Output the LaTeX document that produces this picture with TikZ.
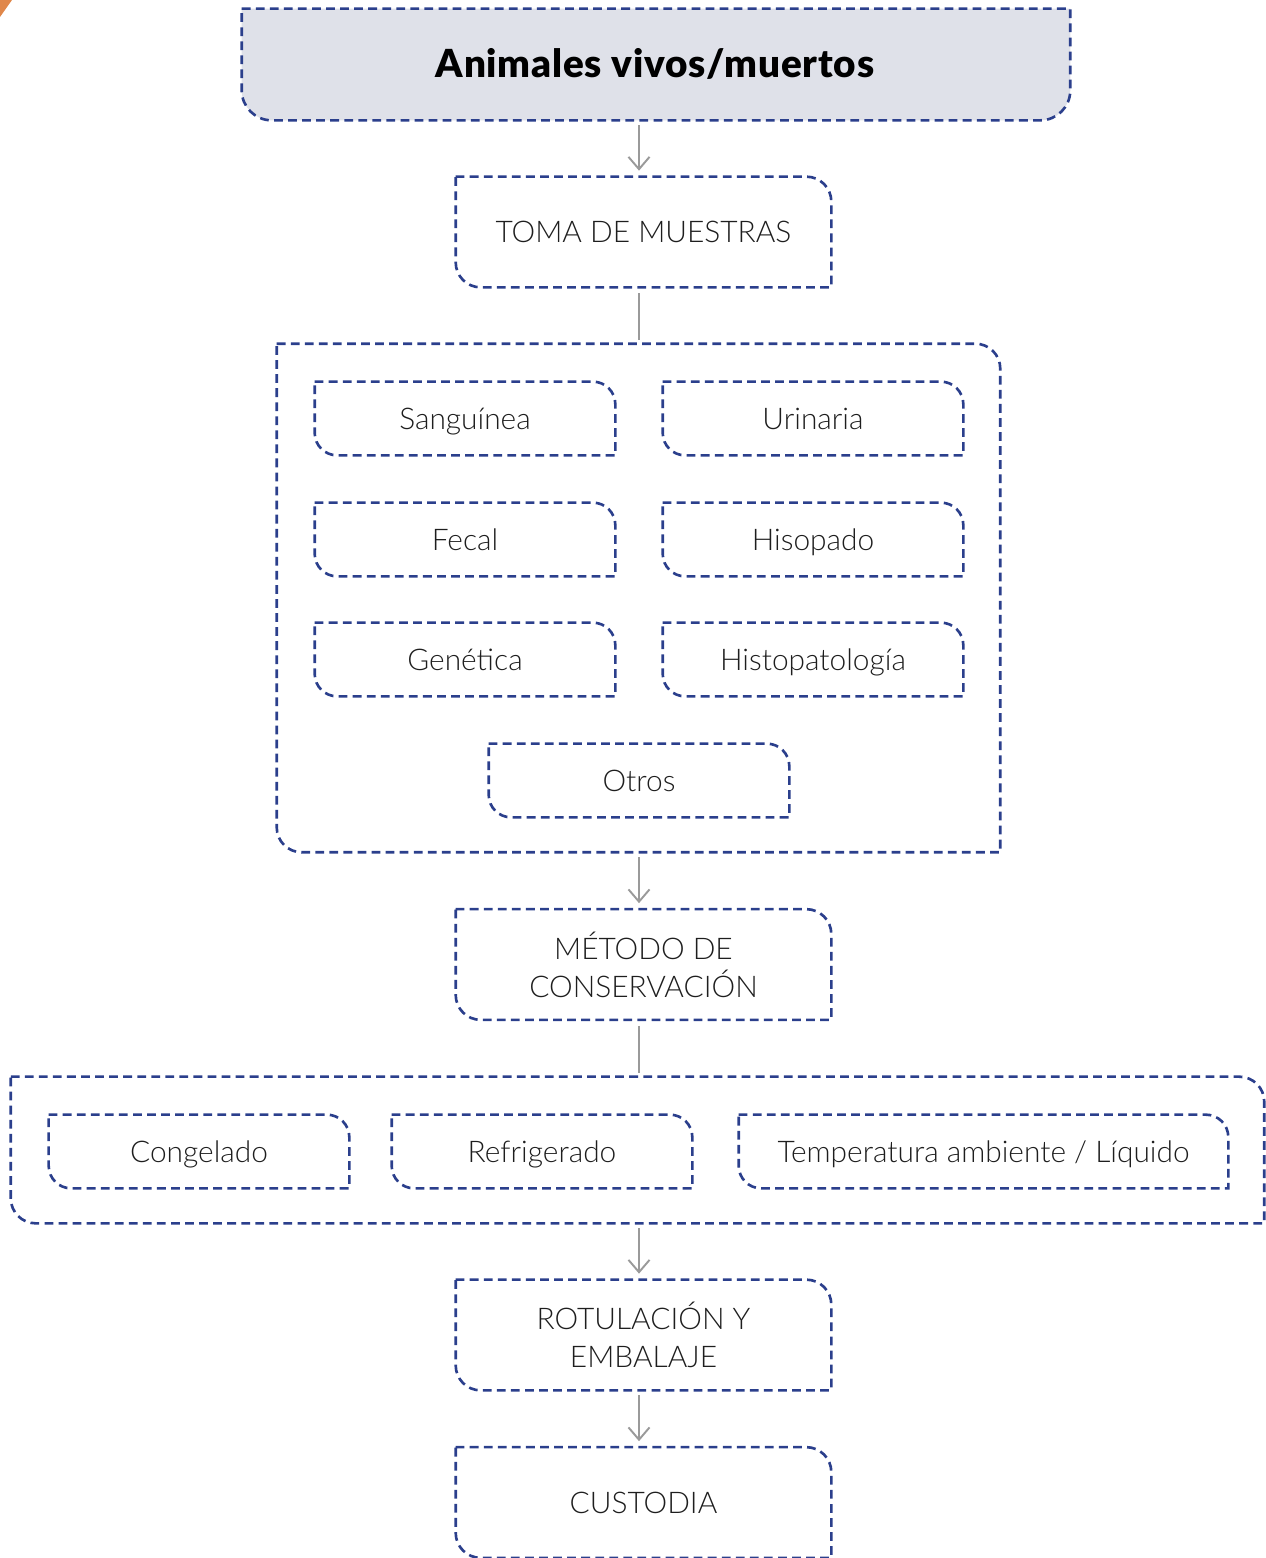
\documentclass[tikz,border=0pt]{standalone}
\usepackage{fontspec}
\setmainfont{Lato}[UprightFont=* Light]
\newfontfamily\titlefont{Lato Black}[LetterSpace=2]
\usetikzlibrary{arrows.meta,calc}
\definecolor{dblue}{HTML}{2B3F8C}
\definecolor{lgray}{HTML}{DFE1E9}
\definecolor{agray}{HTML}{9A9A9A}
\definecolor{txt}{HTML}{1E1E1E}
\definecolor{orng}{HTML}{E0874A}
\tikzset{
  dbox/.style={draw=dblue,line width=1.5pt,dash pattern=on 5pt off 3pt},
  holder/.style={draw=none,inner sep=0pt,text=txt,align=center,font=\fontsize{17}{21.5}\selectfont},
  oneline/.style={text height=12.2pt,text depth=0pt},
  small/.style={holder,oneline,minimum width=6cm,minimum height=1.46cm},
  stepbox/.style={holder,minimum width=7.5cm,minimum height=2.2cm},
  arr/.style={draw=agray,line width=1.1pt,-{Straight Barb[length=7pt,width=12pt,line width=1.1pt]},shorten <=5*0.02cm,shorten >=6*0.02cm},
  conn/.style={draw=agray,line width=1.1pt,shorten <=6*0.02cm,shorten >=4*0.02cm}
}
\newcommand\fancybox[2]{\draw[dbox] (#1.north west) -- ([xshift=-#2]#1.north east) arc[start angle=90,end angle=0,radius=#2] -- (#1.south east) -- ([xshift=#2]#1.south west) arc[start angle=270,end angle=180,radius=#2] -- cycle;}
\begin{document}
\begin{tikzpicture}[x=0.02cm,y=0.02cm]
\useasboundingbox (0,0) rectangle (1266,-1558);
\fill[orng] (0,0) -- (12,0) -- (0,-17) -- cycle;
% nodes
\node[holder,minimum width=16.56cm,minimum height=2.22cm] (top) at (656,-64.5) {};
\node[stepbox,oneline] (toma) at (643.5,-232) {TOMA DE MUESTRAS};
\node[holder,minimum width=14.46cm,minimum height=10.16cm] (c1) at (638.5,-598) {};
\node[small] (sang) at (465,-418.5) {Sanguínea};
\node[small] (urin) at (813,-418.5) {Urinaria};
\node[small] (fec) at (465,-539.5) {Fecal};
\node[small] (his) at (813,-539.5) {Hisopado};
\node[small] (gen) at (465,-659.5) {Genética};
\node[small] (histo) at (813,-659.5) {Histopatología};
\node[small] (otr) at (639,-780.5) {Otros};
\node[stepbox] (met) at (643.5,-964.5) {MÉTODO DE\\CONSERVACIÓN};
\node[holder,minimum width=25.06cm,minimum height=2.92cm] (c2) at (637.5,-1150) {};
\node[small] (cong) at (199,-1151.5) {Congelado};
\node[small] (refr) at (542,-1151.5) {Refrigerado};
\node[small,minimum width=9.78cm] (temp) at (983.5,-1151.5) {Temperatura ambiente / Líquido};
\node[stepbox] (rot) at (643.5,-1335) {ROTULACIÓN Y\\EMBALAJE};
\node[stepbox,oneline] (cus) at (643.5,-1502.5) {CUSTODIA};
% top box
\draw[dbox,fill=lgray] (top.north west) -- (top.north east) -- ([yshift=0.6cm]top.south east) arc[start angle=0,end angle=-90,radius=0.6cm] -- ([xshift=0.6cm]top.south west) arc[start angle=270,end angle=180,radius=0.6cm] -- cycle;
\node[text=black,inner sep=0pt,text height=15.8pt,text depth=0pt,font=\titlefont\fontsize{22}{26}\selectfont] (title) at (655,-64) {Animales vivos/muertos};
% boxes
\fancybox{toma}{0.5cm}
\fancybox{c1}{0.5cm}
\fancybox{sang}{0.45cm}
\fancybox{urin}{0.45cm}
\fancybox{fec}{0.45cm}
\fancybox{his}{0.45cm}
\fancybox{gen}{0.45cm}
\fancybox{histo}{0.45cm}
\fancybox{otr}{0.45cm}
\fancybox{met}{0.5cm}
\fancybox{c2}{0.5cm}
\fancybox{cong}{0.45cm}
\fancybox{refr}{0.45cm}
\fancybox{temp}{0.45cm}
\fancybox{rot}{0.5cm}
\fancybox{cus}{0.5cm}
% connectors
\coordinate (ax) at (639,0);
\draw[arr] (top.south -| ax) -- (toma.north -| ax);
\draw[conn] (toma.south -| ax) -- (c1.north -| ax);
\draw[arr] (c1.south -| ax) -- (met.north -| ax);
\draw[conn] (met.south -| ax) -- (c2.north -| ax);
\draw[arr] (c2.south -| ax) -- (rot.north -| ax);
\draw[arr] (rot.south -| ax) -- (cus.north -| ax);
\end{tikzpicture}
\end{document}
